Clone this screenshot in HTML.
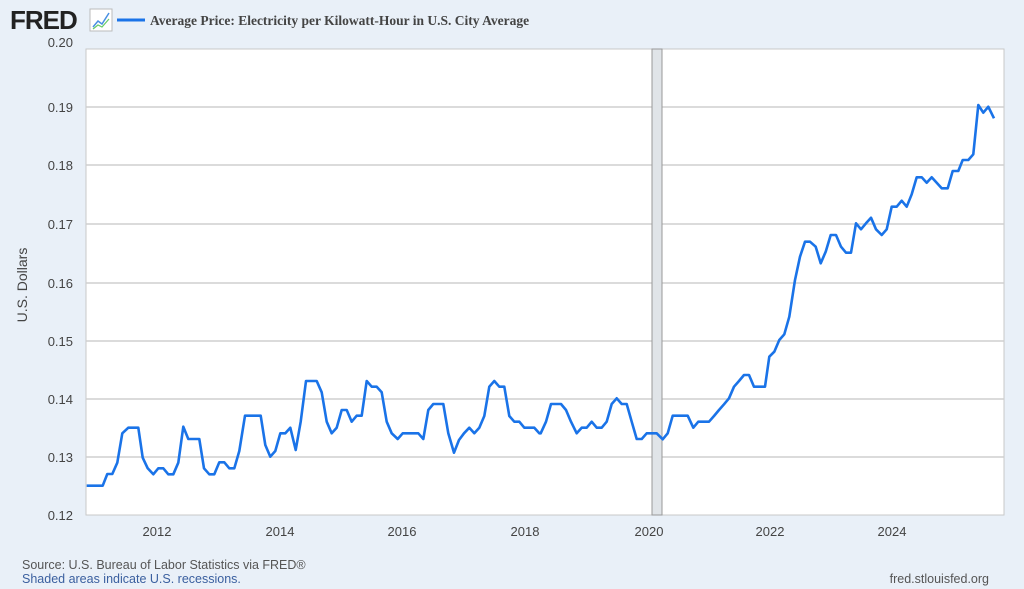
<!DOCTYPE html><html><head><style>
body{margin:0;background:#e1e9f0;}
svg{display:block;font-family:"Liberation Sans",sans-serif;}
</style></head><body>
<svg width="1024" height="589" xmlns="http://www.w3.org/2000/svg">
<rect width="1024" height="589" fill="#e9f0f8"/>
<rect x="86" y="49" width="918" height="466" fill="#fff" stroke="#c8c8c8"/>
<g stroke="#cfcfcf" stroke-width="1.5">
<line x1="86" x2="1004" y1="107" y2="107"/><line x1="86" x2="1004" y1="165" y2="165"/>
<line x1="86" x2="1004" y1="224" y2="224"/><line x1="86" x2="1004" y1="283" y2="283"/>
<line x1="86" x2="1004" y1="341" y2="341"/><line x1="86" x2="1004" y1="399" y2="399"/>
<line x1="86" x2="1004" y1="457" y2="457"/>
</g>
<rect x="652" y="49" width="10" height="466" fill="#e0e4e8" stroke="#999" stroke-width="1"/>
<g fill="#444" font-size="13" text-anchor="end">
<text x="73" y="47">0.20</text><text x="73" y="112">0.19</text><text x="73" y="170">0.18</text>
<text x="73" y="229">0.17</text><text x="73" y="288">0.16</text><text x="73" y="346">0.15</text>
<text x="73" y="404">0.14</text><text x="73" y="462">0.13</text><text x="73" y="520">0.12</text>
</g>
<g fill="#444" font-size="13" text-anchor="middle">
<text x="157" y="536">2012</text><text x="280" y="536">2014</text><text x="402" y="536">2016</text>
<text x="525" y="536">2018</text><text x="649" y="536">2020</text><text x="770" y="536">2022</text><text x="892" y="536">2024</text>
</g>
<text transform="translate(27,285) rotate(-90)" text-anchor="middle" font-size="14" fill="#444">U.S. Dollars</text>
<text x="10" y="29" font-size="26" font-weight="bold" fill="#222" letter-spacing="-1">FRED</text>
<rect x="90" y="9" width="22" height="22" fill="#fff" stroke="#bbb"/>
<polyline points="93,27 98,21 102,24 109,13" fill="none" stroke="#4a90e2" stroke-width="1.5"/>
<polyline points="93,29 98,25 102,27 109,19" fill="none" stroke="#6c6" stroke-width="1.2"/>
<line x1="117" y1="20" x2="145" y2="20" stroke="#1a73e8" stroke-width="3"/>
<text x="150" y="25" font-family="Liberation Serif,serif" font-weight="bold" font-size="13.5" fill="#444">Average Price: Electricity per Kilowatt-Hour in U.S. City Average</text>
<text x="22" y="569" font-size="12.5" fill="#555">Source: U.S. Bureau of Labor Statistics via FRED®</text>
<text x="22" y="583" font-size="12.5" fill="#3a5f9f">Shaded areas indicate U.S. recessions.</text>
<text x="989" y="583" font-size="12.5" fill="#555" text-anchor="end">fred.stlouisfed.org</text>
<polyline id="ln" fill="none" stroke="#1a73e8" stroke-width="2.6" stroke-linejoin="round"/>
</svg>
<script>
var z1=[[20,377],[68,377],[82,342],[97,342],[112,308],[127,220],[145,203],[175,203],[188,293],[203,325],[220,343],[235,325],[250,325],[265,343],[280,343],[295,308],[310,200],[325,237],[358,237],[372,325],[388,343],[403,343],[418,307],[433,307],[448,325],[463,325],[478,273],[495,167],[542,167],[556,255],[571,290],[586,273],[601,220],[616,220],[631,203],[647,270],[662,185],[678,63],[710,63],[725,97],[740,185],[755,220],[770,203],[785,150],[800,150],[815,185],[830,167],[845,167],[860,63],[875,80],[890,80],[905,97],[920,185],[935,220],[953,237],[968,220],[1015,220],[1030,237],[1045,150],[1060,132],[1090,132],[1105,220],[1122,278],[1137,240],[1152,220],[1168,203],[1183,220],[1198,203],[1213,168],[1228,80],[1243,63],[1258,80],[1273,80],[1288,168],[1303,185],[1318,185],[1333,203],[1363,203],[1378,220]];
var z2=[[32,220],[48,185],[63,132],[93,132],[108,150],[123,185],[140,220],[155,203],[170,203],[185,185],[200,203],[215,203],[230,185],[245,132],[260,115],[275,132],[290,132],[305,185],[320,237],[335,237],[350,220],[380,220],[398,238],[413,220],[428,167],[473,167],[490,203],[505,185],[537,185],[552,168],[567,150],[582,133],[597,115],[612,80],[627,63],[642,45],[657,45],[672,80],[705,80]];
var z3=[[58,800],[73,785],[88,750],[103,733],[118,680],[135,570],[150,500],[165,455],[180,455],[197,470],[212,520],[227,485],[242,435],[258,435],[273,470],[288,488],[303,488],[318,400],[333,418],[348,400],[363,383],[378,418],[395,435],[410,418],[425,350],[440,350],[455,332],[470,350],[485,313],[500,262],[515,262],[530,278],[545,262],[560,278],[575,295],[593,295],[608,243],[625,243],[638,210],[655,210],[670,193],[685,45],[700,68],[715,50],[732,85]];
var p=[];
z1.forEach(function(a){p.push((80+a[0]/3).toFixed(1)+","+(360+a[1]/3).toFixed(1));});
z2.forEach(function(a){p.push((530+a[0]/3).toFixed(1)+","+(360+a[1]/3).toFixed(1));});
z3.forEach(function(a){p.push((750+a[0]/3).toFixed(1)+","+(90+a[1]/3).toFixed(1));});
document.getElementById("ln").setAttribute("points",p.join(" "));
</script>
</body></html>
